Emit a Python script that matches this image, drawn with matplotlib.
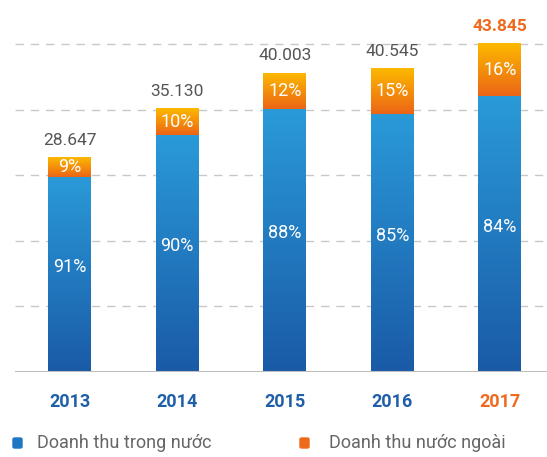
import numpy as np
import matplotlib
matplotlib.use("Agg")
import matplotlib.pyplot as plt
from matplotlib.colors import LinearSegmentedColormap
from matplotlib.patches import FancyBboxPatch

years = ["2013", "2014", "2015", "2016", "2017"]
totals = [28.647, 35.130, 40.003, 40.545, 43.845]
total_labels = ["28.647", "35.130", "40.003", "40.545", "43.845"]
pct_domestic = [91, 90, 88, 85, 84]
pct_foreign = [9, 10, 12, 15, 16]
legend_labels = ["Doanh thu trong nước", "Doanh thu nước ngoài"]

domestic = [t * p / 100 for t, p in zip(totals, pct_domestic)]
foreign = [t - d for t, d in zip(totals, domestic)]

plt.rcParams['font.family'] = ['Roboto', 'DejaVu Sans']

blue_cm = LinearSegmentedColormap.from_list("b", ["#1a5aa6", "#2a9ad9"])
orange_cm = LinearSegmentedColormap.from_list("o", ["#ec6516", "#fcb900"])
grad = np.linspace(0, 1, 256).reshape(-1, 1)

fig = plt.figure(figsize=(5.47, 4.57), dpi=100)
ax = fig.add_axes([15 / 547, 85 / 457, 532 / 547, 372 / 457])

x = np.arange(len(years))
w = 0.4
top = 43.845 * 372 / 328

b1 = ax.bar(x, domestic, w, color="none", zorder=3)
b2 = ax.bar(x, foreign, w, bottom=domestic, color="none", zorder=3)

for bars, cm in ((b1, blue_cm), (b2, orange_cm)):
    for b in bars:
        x0, y0 = b.get_x(), b.get_y()
        ax.imshow(grad, cmap=cm, origin="lower", aspect="auto", zorder=3,
                  extent=(x0, x0 + b.get_width(), y0, y0 + b.get_height()))

# grid
for g in np.linspace(43.845 / 5, 43.845, 5):
    ax.axhline(g, color="#c8c8c8", lw=1, ls=(0, (6, 5)), zorder=1)
ax.axhline(0, color="#bdbdbd", lw=2.2, zorder=4)

for i in range(len(years)):
    ax.text(x[i], domestic[i] / 2 + 1.0, f"{pct_domestic[i]}%", ha="center",
            va="center", color="white", fontsize=13, zorder=5)
    ax.text(x[i], domestic[i] + foreign[i] / 2, f"{pct_foreign[i]}%", ha="center",
            va="center", color="white", fontsize=13, zorder=5)
    last = i == len(years) - 1
    ax.annotate(total_labels[i], (x[i], totals[i]), xytext=(0, 7),
                textcoords="offset points", ha="center", va="bottom",
                color="#ef6a1f" if last else "#555555", fontsize=12.5,
                fontweight="bold" if last else "normal", zorder=5)

ax.set_xlim(-0.51, 4.44)
ax.set_ylim(0, top)
ax.set_xticks(x)
ax.set_xticklabels(years, fontsize=13, fontweight="bold")
for lbl, y in zip(ax.get_xticklabels(), years):
    lbl.set_color("#ef6a1f" if y == "2017" else "#1f5fa8")
ax.tick_params(axis="x", length=0, pad=15)
ax.set_yticks([])
for s in ax.spines.values():
    s.set_visible(False)

# legend
for lx, tx, col, lab in ((13, 37, "#1f76c2", legend_labels[0]),
                         (300, 329, "#ec6a1a", legend_labels[1])):
    fig.patches.append(FancyBboxPatch((lx / 547, 1 - 448 / 457), 9 / 547, 10 / 457,
                                      boxstyle="round,pad=0,rounding_size=0.003",
                                      transform=fig.transFigure, color=col))
    fig.text(tx / 547, 1 - 443 / 457, lab, color="#666666", fontsize=13, va="center")

fig.savefig("out.png", dpi=100)
